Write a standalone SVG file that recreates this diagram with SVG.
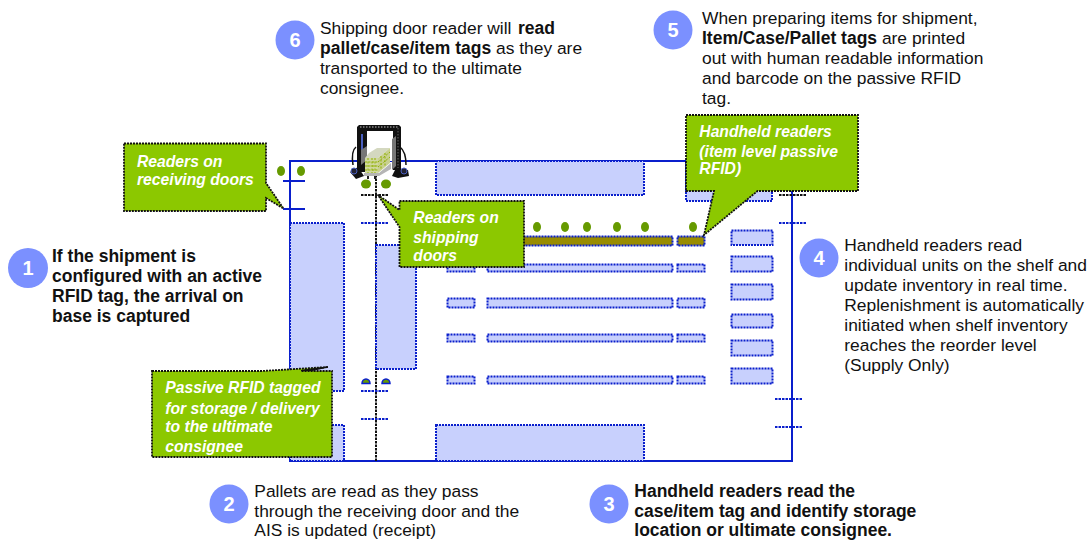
<svg xmlns="http://www.w3.org/2000/svg" width="1092" height="540" viewBox="0 0 1092 540">
<style>
text{font-family:"Liberation Sans",Arial,sans-serif;font-size:17.4px;fill:#111}
.b{font-weight:bold;font-size:17.5px}
.c{font-weight:bold;font-style:italic;fill:#fff;font-size:15.7px}
.n{font-weight:bold;font-size:20px;fill:#fff;text-anchor:middle}
.bub{fill:#7B90FF}
.wall{fill:none;stroke:#0A1FCC;stroke-width:2}
.tick{stroke:#0A1FCC;stroke-width:1.8;stroke-dasharray:2.500 1;fill:none}
.r{fill:#C8D0FD;stroke:#0A1FCC;stroke-width:2;stroke-dasharray:2 1}
.o{fill:#998C00;stroke:#0A1FCC;stroke-width:2;stroke-dasharray:2 1}
.dot{fill:#669A00}
.call{fill:#8CC800;stroke:#111;stroke-width:1.8;stroke-dasharray:2 1}
.door{stroke:#111;stroke-width:2;stroke-dasharray:2.500 1;fill:none}
</style>
<g id="building">
<path class="wall" d="M290 161H792V461H290Z"/>
<rect class="r" x="290" y="223" width="54" height="168"/>
<rect class="r" x="290" y="425" width="54" height="36"/>
<path class="door" d="M376 175V461"/>
<rect class="r" x="376" y="245" width="40" height="124"/>
<rect class="r" x="436" y="161" width="208" height="34"/>
<rect class="r" x="436" y="425" width="208" height="36"/>
<rect class="r" x="686" y="161" width="86" height="40"/>
<path d="M283 181H305M283 209H305" stroke="#0A1FCC" stroke-width="1.8"/>
<path class="door" d="M361 195H389"/>
<path class="tick" d="M361 223H389M361 391H389M361 419H389"/>
<path class="door" d="M779 195H807"/>
<path class="tick" d="M779 223H807M775 399H803M775 427H803"/>
</g>
<g id="shelves">
<rect class="r" x="447.500" y="236.500" width="27" height="9"/>
<rect class="o" x="487.500" y="236.500" width="185" height="9"/>
<rect class="o" x="677.500" y="236.500" width="27" height="9"/>
<rect class="r" x="447.500" y="264.500" width="27" height="7"/>
<rect class="r" x="487.500" y="264.500" width="185" height="7"/>
<rect class="r" x="677.500" y="264.500" width="27" height="7"/>
<rect class="r" x="447.500" y="298.500" width="27" height="9"/>
<rect class="r" x="487.500" y="298.500" width="185" height="9"/>
<rect class="r" x="677.500" y="298.500" width="27" height="9"/>
<rect class="r" x="447.500" y="334.500" width="27" height="7"/>
<rect class="r" x="487.500" y="334.500" width="185" height="7"/>
<rect class="r" x="677.500" y="334.500" width="27" height="7"/>
<rect class="r" x="447.500" y="376.500" width="27" height="7"/>
<rect class="r" x="487.500" y="376.500" width="185" height="7"/>
<rect class="r" x="677.500" y="376.500" width="27" height="7"/>
<rect class="r" x="731.500" y="230.500" width="41" height="14.500"/>
<rect class="r" x="731.500" y="256.500" width="41" height="15"/>
<rect class="r" x="731.500" y="284.500" width="41" height="15"/>
<rect class="r" x="731.500" y="314.500" width="41" height="13"/>
<rect class="r" x="731.500" y="340.500" width="41" height="15"/>
<rect class="r" x="731.500" y="368.500" width="41" height="15"/>
</g>
<g id="readers">
<ellipse class="dot" cx="281" cy="171" rx="4" ry="5"/>
<ellipse class="dot" cx="301" cy="171" rx="4" ry="5"/>
<ellipse class="dot" cx="366" cy="184" rx="5" ry="4.500"/>
<ellipse class="dot" cx="386" cy="184" rx="5" ry="4.500"/>
<ellipse class="dot" cx="537" cy="227" rx="4" ry="5"/>
<ellipse class="dot" cx="565" cy="227" rx="4" ry="5"/>
<ellipse class="dot" cx="587" cy="227" rx="4" ry="5"/>
<ellipse class="dot" cx="617" cy="227" rx="4" ry="5"/>
<ellipse class="dot" cx="645" cy="227" rx="4" ry="5"/>
<ellipse class="dot" cx="693" cy="227" rx="4" ry="5"/>
<path class="dot" stroke="#0A1FCC" stroke-width="1.500" d="M362 383.500a4 4.500 0 0 1 8 0ZM382 383.500a4 4.500 0 0 1 8 0Z"/>
</g>
<g id="forklift">
<path d="M357 127l2-2H399l2 2V170H393V131H367V172H357Z" fill="#111"/>
<path d="M360 127H398" stroke="#888" stroke-width="1.500" stroke-dasharray="1.500 1.500"/>
<path d="M398 128V168" stroke="#666" stroke-width="1" stroke-dasharray="1.500 1.500"/>
<rect x="367" y="131" width="26" height="30" fill="#fff"/>
<path d="M362 134V150" stroke="#4A5FC0" stroke-width="2"/>
<path d="M392 139L396 136V166L392 170Z" fill="#777"/>
<path d="M361 150L367 146V160L361 165Z" fill="#777"/>
<path d="M356 147C352 150 352 158 353 165M400 147C404 150 406 158 406 165" stroke="#111" stroke-width="1.500" fill="none"/>
<path d="M350 172L358 167L364 176L356 179Z" fill="#111"/>
<path d="M396 168L408 170L409 176L398 178L392 176Z" fill="#111"/>
<circle cx="354" cy="171" r="3" fill="#223" stroke="#4A5FC0"/>
<circle cx="404" cy="171" r="3" fill="#223" stroke="#4A5FC0"/>
<path d="M365 158L378 158L390 148L377 148L369 153Z" fill="#D4D8C0"/>
<rect x="365" y="158" width="13" height="15" fill="#D0D8A0"/>
<path d="M378 158L390 148V163L378 173Z" fill="#C8D090"/>
<path d="M368 158V173M372 158V173M375 158V173M365 162H378M365 166H378M365 170H378" stroke="#8FB000" stroke-width="1" stroke-dasharray="2 1.500"/>
<path d="M381 156V170M385 153V167M378 162L390 152M378 167L390 157" stroke="#8FB000" stroke-width="1" stroke-dasharray="2 1.500"/>
<path d="M364 173H379L391 163V169L379 176H364Z" fill="#B5B5B5"/>
<path d="M368 176V179M375 176V179" stroke="#222" stroke-width="2"/>
</g>
<g id="callout-receiving">
<path class="call" d="M124 143.500H266V183L283.500 208.500L266 198V211H124Z"/>
<text class="c" x="137" y="167">Readers on</text>
<text class="c" x="137" y="185">receiving doors</text>
</g>
<g id="callout-shipping">
<path class="call" d="M399.500 201H524V267H399.500V227L378 195L399.500 210Z"/>
<text class="c" x="413.300" y="223">Readers on</text>
<text class="c" x="413.300" y="243">shipping</text>
<text class="c" x="413.300" y="261">doors</text>
</g>
<g id="callout-handheld">
<path class="call" d="M686 115H858V191H757.500L704 235L714 191H686Z"/>
<text class="c" x="699.300" y="137">Handheld readers</text>
<text class="c" x="699.300" y="157">(item level passive</text>
<text class="c" x="699.300" y="174">RFID)</text>
</g>
<g id="callout-passive">
<path class="call" d="M152 371H262L328 367L301 371H332V457H152Z"/>
<path d="M301 370.500L328 367L312 370.500Z" fill="#111" stroke="#111"/>
<text class="c" x="165.300" y="393">Passive RFID tagged</text>
<text class="c" x="165.300" y="414">for storage / delivery</text>
<text class="c" x="165.300" y="432">to the ultimate</text>
<text class="c" x="165.300" y="452">consignee</text>
</g>
<g id="step-1">
<circle class="bub" cx="28" cy="268" r="20"/>
<text class="n" x="28" y="275">1</text>
<text class="b" x="52" y="262">If the shipment is</text>
<text class="b" x="52" y="282">configured with an active</text>
<text class="b" x="52" y="302">RFID tag, the arrival on</text>
<text class="b" x="52" y="322">base is captured</text>
</g>
<g id="step-2">
<circle class="bub" cx="229" cy="504" r="19.500"/>
<text class="n" x="229" y="511">2</text>
<text x="254.300" y="497">Pallets are read as they pass</text>
<text x="254.300" y="517">through the receiving door and the</text>
<text x="254.300" y="536">AIS is updated (receipt)</text>
</g>
<g id="step-3">
<circle class="bub" cx="609" cy="504" r="19.500"/>
<text class="n" x="609" y="511">3</text>
<text class="b" x="634.300" y="497">Handheld readers read the</text>
<text class="b" x="634.300" y="517">case/item tag and identify storage</text>
<text class="b" x="634.300" y="536">location or ultimate consignee.</text>
</g>
<g id="step-4">
<circle class="bub" cx="819" cy="258" r="19.500"/>
<text class="n" x="819" y="265">4</text>
<text x="844.300" y="251">Handheld readers read</text>
<text x="844.300" y="271">individual units on the shelf and</text>
<text x="844.300" y="291">update inventory in real time.</text>
<text x="844.300" y="311">Replenishment is automatically</text>
<text x="844.300" y="331">initiated when shelf inventory</text>
<text x="844.300" y="351">reaches the reorder level</text>
<text x="844.300" y="371">(Supply Only)</text>
</g>
<g id="step-5">
<circle class="bub" cx="673" cy="30" r="19.500"/>
<text class="n" x="673" y="37">5</text>
<text x="702" y="24">When preparing items for shipment,</text>
<text x="702" y="44"><tspan class="b">Item/Case/Pallet tags</tspan> are printed</text>
<text x="702" y="64">out with human readable information</text>
<text x="702" y="84">and barcode on the passive RFID</text>
<text x="702" y="104">tag.</text>
</g>
<g id="step-6">
<circle class="bub" cx="295" cy="40" r="19.500"/>
<text class="n" x="295" y="47">6</text>
<text x="320" y="34">Shipping door reader will <tspan class="b" x="518">read</tspan></text>
<text x="320" y="54"><tspan class="b">pallet/case/item tags</tspan> as they are</text>
<text x="320" y="74">transported to the ultimate</text>
<text x="320" y="94">consignee.</text>
</g>
</svg>
